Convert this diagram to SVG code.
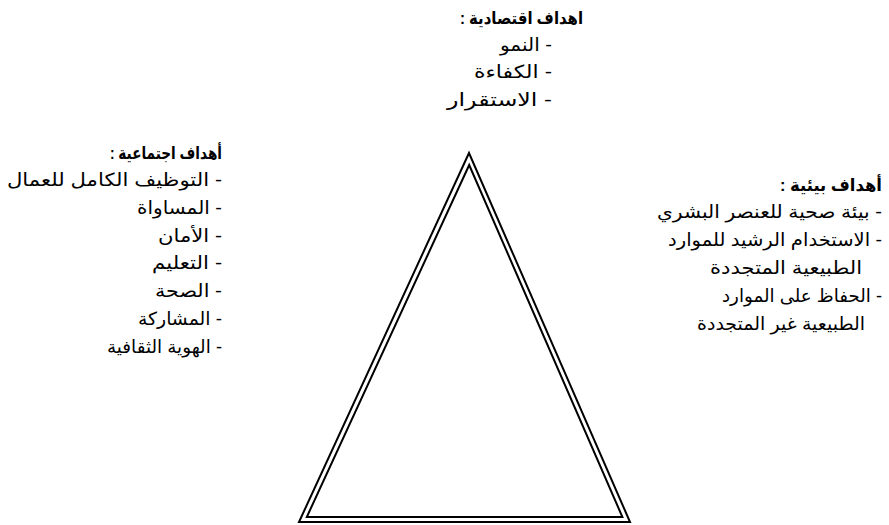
<svg xmlns="http://www.w3.org/2000/svg" width="889" height="525" viewBox="0 0 889 525">
<style>
text{font-family:"Liberation Sans","DejaVu Sans",Arial,sans-serif;font-size:18px;fill:#000;direction:rtl;text-anchor:start}
.h{font-weight:bold;font-size:17px}
.tri{fill:none;stroke:#000;stroke-width:2;stroke-linejoin:miter}
</style>
<rect width="889" height="525" fill="#fff"/>
<g id="triangle">
<polygon class="tri" points="469,153 299,522 630,522"/>
<polygon class="tri" points="469.2,165 306.8,517 622.4,517"/>
</g>
<g id="connectors"></g>
<g id="economic">
<text class="h" x="583" y="24" direction="rtl" textLength="123" lengthAdjust="spacingAndGlyphs">اهداف اقتصادية :</text>
<text x="552" y="51" direction="rtl" textLength="52" lengthAdjust="spacingAndGlyphs">- النمو</text>
<text x="552" y="78" direction="rtl" textLength="78" lengthAdjust="spacingAndGlyphs">- الكفاءة</text>
<text x="552" y="106" direction="rtl" textLength="105" lengthAdjust="spacingAndGlyphs">- الاستقرار</text>
</g>
<g id="social">
<text class="h" x="222" y="159" direction="rtl" textLength="112" lengthAdjust="spacingAndGlyphs">أهداف اجتماعية :</text>
<text x="222" y="186" direction="rtl" textLength="215" lengthAdjust="spacingAndGlyphs">- التوظيف الكامل للعمال</text>
<text x="222" y="214" direction="rtl" textLength="85" lengthAdjust="spacingAndGlyphs">- المساواة</text>
<text x="222" y="242" direction="rtl" textLength="64" lengthAdjust="spacingAndGlyphs">- الأمان</text>
<text x="222" y="269" direction="rtl" textLength="70" lengthAdjust="spacingAndGlyphs">- التعليم</text>
<text x="222" y="297" direction="rtl" textLength="67" lengthAdjust="spacingAndGlyphs">- الصحة</text>
<text x="222" y="325" direction="rtl" textLength="84" lengthAdjust="spacingAndGlyphs">- المشاركة</text>
<text x="222" y="353" direction="rtl" textLength="115" lengthAdjust="spacingAndGlyphs">- الهوية الثقافية</text>
</g>
<g id="environmental">
<text class="h" x="882" y="191" direction="rtl" textLength="102" lengthAdjust="spacingAndGlyphs">أهداف بيئية :</text>
<text x="882" y="218" direction="rtl" textLength="225" lengthAdjust="spacingAndGlyphs">- بيئة صحية للعنصر البشري</text>
<text x="882" y="246" direction="rtl" textLength="214" lengthAdjust="spacingAndGlyphs">- الاستخدام الرشيد للموارد</text>
<text x="862" y="274" direction="rtl" textLength="152" lengthAdjust="spacingAndGlyphs">الطبيعية المتجددة</text>
<text x="882" y="302" direction="rtl" textLength="160" lengthAdjust="spacingAndGlyphs">- الحفاظ على الموارد</text>
<text x="865" y="330" direction="rtl" textLength="168" lengthAdjust="spacingAndGlyphs">الطبيعية  غير المتجددة</text>
</g>
</svg>
